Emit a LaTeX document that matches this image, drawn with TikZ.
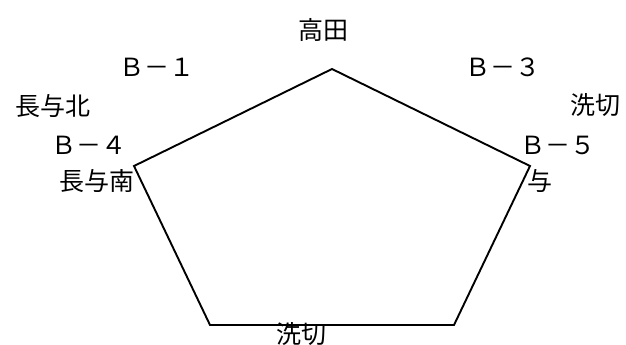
\documentclass[tikz,border=0pt]{standalone}
\usepackage{fontspec}
\setmainfont{Noto Sans CJK JP}
\usetikzlibrary{positioning}
\tikzstyle{fPlace} = [inner sep=0pt, font=\fontsize{25}{28}\selectfont]
\tikzstyle{fEdge} = [line width=1.9pt, line join=miter]

\begin{document}
\begin{tikzpicture}[x=1pt, y=-1pt]
    \useasboundingbox (0,0) rectangle (626,345);
    \coordinate (takada) at (332,69);
    \coordinate (nagayoS) at (134,166);
    \coordinate (nagayoE) at (530,166);
    \coordinate (araikiriL) at (210,325);
    \coordinate (araikiriR) at (454,325);

    \node (lblTakada) [fPlace] at (323,30) {高田};
    \node (lblB1) [fPlace] at (157,67) {Ｂ－１};
    \node (lblNagayoN) [fPlace] at (53,106) {長与北};
    \node (lblB4) [fPlace] at (89,145) {Ｂ－４};
    \node (lblNagayoS) [fPlace] at (97,181) {長与南};
    \node (lblB3) [fPlace] at (503,67) {Ｂ－３};
    \node (lblAraikiri) [fPlace] at (595,105) {洗切};
    \node (lblB5) [fPlace] at (558,145) {Ｂ－５};
    \node (lblYo) [fPlace] at (540,181) {与};
    \node (lblAraikiri2) [fPlace] at (301,334) {洗切};

    \draw [fEdge] (takada) -- (nagayoE) -- (araikiriR) -- (araikiriL) -- (nagayoS) -- cycle;
\end{tikzpicture}
\end{document}
